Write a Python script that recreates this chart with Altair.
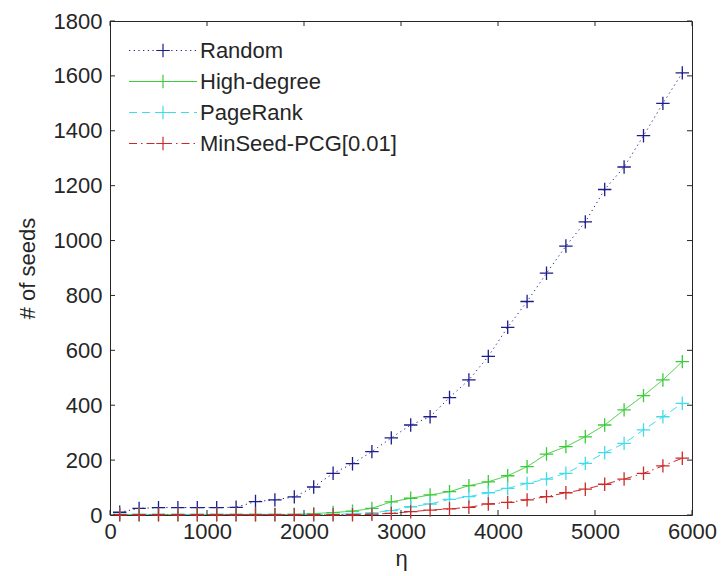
import altair as alt
import pandas as pd

# ---- data ----
eta = [100, 300, 500, 700, 900, 1100, 1300, 1500, 1700, 1900,
       2100, 2300, 2500, 2700, 2900, 3100, 3300, 3500, 3700, 3900,
       4100, 4300, 4500, 4700, 4900, 5100, 5300, 5500, 5700, 5900]

random_seeds = [10, 24, 27, 27, 27, 27, 28, 49, 55, 66,
                102, 152, 187, 231, 281, 328, 358, 428, 492, 578,
                684, 778, 881, 980, 1068, 1186, 1268, 1382, 1500, 1611]
high_degree = [2, 2, 2, 2, 2, 2, 2, 2, 2, 2,
               5, 9, 14, 24, 48, 61, 73, 85, 107, 121,
               143, 176, 222, 249, 285, 328, 383, 435, 492, 559]
pagerank = [2, 2, 2, 2, 2, 2, 2, 2, 2, 2,
            2, 2, 4, 8, 16, 30, 40, 57, 67, 81,
            97, 115, 131, 152, 188, 227, 261, 310, 358, 407]
minseed = [1, 1, 1, 1, 1, 1, 1, 1, 1, 1,
           1, 1, 1, 3, 6, 12, 18, 22, 28, 40,
           46, 55, 67, 81, 94, 112, 131, 152, 179, 207]

series_names = ["Random", "High-degree", "PageRank", "MinSeed-PCG[0.01]"]
series_values = [random_seeds, high_degree, pagerank, minseed]
series_colors = ["#1c1c8a", "#38cc38", "#40dcea", "#cc2a2a"]
series_dashes = [[1.2, 3.5], [1, 0], [8, 5], [8, 4, 1.5, 4]]

x_ticks = [0, 1000, 2000, 3000, 4000, 5000, 6000]
y_ticks = [0, 200, 400, 600, 800, 1000, 1200, 1400, 1600, 1800]

rows = []
for name, vals in zip(series_names, series_values):
    for e, v in zip(eta, vals):
        rows.append({"eta": e, "seeds": v, "method": name})
df = pd.DataFrame(rows)
xt = pd.DataFrame({"eta": x_ticks})
yt = pd.DataFrame({"seeds": y_ticks})

W, H = 582, 494
FONT = "Liberation Sans"
INK = "#262626"
TL = 5  # inward tick length


def chopped(x0, y0, x1, y1, n):
    out = []
    for i in range(n):
        a, b = i / n, (i + 1) / n
        out.append("M%.4f,%.4fL%.4f,%.4f" % (x0 + (x1 - x0) * a, y0 + (y1 - y0) * a,
                                             x0 + (x1 - x0) * b, y0 + (y1 - y0) * b))
    return "".join(out)


# legend symbol: dashed line with a solid "+" marker in the middle
legend_path = "M-1,0L1,0" + chopped(0, -0.2, 0, 0.2, 14) + chopped(-0.2, 0, 0.2, 0, 14)
plus_path = "M-1,0L1,0M0,-1L0,1"

xs = alt.Scale(domain=[0, 6000], nice=False, zero=False)
ys = alt.Scale(domain=[0, 1800], nice=False, zero=False)

x_axis = alt.Axis(values=x_ticks, format="d", title="η", labelPadding=6, titlePadding=6,
                  labelFlush=False)
y_axis = alt.Axis(values=y_ticks, format="d", title="# of seeds", labelPadding=8, titlePadding=14,
                  labelFlush=False)

leg = alt.Legend(
    title=None, orient="none", legendX=18, legendY=17,
    symbolType=legend_path, symbolSize=4624, symbolStrokeWidth=1.2,
    clipHeight=25, rowPadding=6, padding=0,
    labelFont=FONT, labelFontSize=22, labelColor=INK, labelOffset=2, labelLimit=500,
)

base = alt.Chart(df)

lines = base.mark_line(strokeWidth=1).encode(
    x=alt.X("eta:Q", scale=xs, axis=x_axis),
    y=alt.Y("seeds:Q", scale=ys, axis=y_axis),
    color=alt.Color("method:N", scale=alt.Scale(domain=series_names, range=series_colors),
                    legend=leg),
    strokeDash=alt.StrokeDash("method:N", scale=alt.Scale(domain=series_names, range=series_dashes),
                              legend=leg),
)

points = base.mark_point(shape=plus_path, filled=False, size=180, strokeWidth=1.3, opacity=1).encode(
    x=alt.X("eta:Q", scale=xs, axis=x_axis),
    y=alt.Y("seeds:Q", scale=ys, axis=y_axis),
    color=alt.Color("method:N", scale=alt.Scale(domain=series_names, range=series_colors),
                    legend=None),
)

tick_left = alt.Chart(yt).mark_rule(color=INK, strokeWidth=1).encode(
    y=alt.Y("seeds:Q", scale=ys, axis=y_axis), x=alt.value(0), x2=alt.value(TL))
tick_right = alt.Chart(yt).mark_rule(color=INK, strokeWidth=1).encode(
    y=alt.Y("seeds:Q", scale=ys, axis=y_axis), x=alt.value(W - TL), x2=alt.value(W))
tick_bottom = alt.Chart(xt).mark_rule(color=INK, strokeWidth=1).encode(
    x=alt.X("eta:Q", scale=xs, axis=x_axis), y=alt.value(H - TL), y2=alt.value(H))
tick_top = alt.Chart(xt).mark_rule(color=INK, strokeWidth=1).encode(
    x=alt.X("eta:Q", scale=xs, axis=x_axis), y=alt.value(0), y2=alt.value(TL))

chart = alt.layer(lines, points, tick_left, tick_right, tick_bottom, tick_top).properties(
    width=W, height=H,
    autosize=alt.AutoSizeParams(type="none"),
    padding={"left": 110, "top": 21, "right": 31, "bottom": 61},
    background="white",
).configure_view(
    stroke=INK, strokeWidth=1
).configure_axis(
    domain=False, ticks=False, grid=False, labelFlush=False,
    labelFont=FONT, labelFontSize=22, labelColor=INK,
    titleFont=FONT, titleFontSize=22, titleFontWeight="normal", titleColor=INK,
)

chart.save("out.html", embed_options={"renderer": "svg", "actions": False})
